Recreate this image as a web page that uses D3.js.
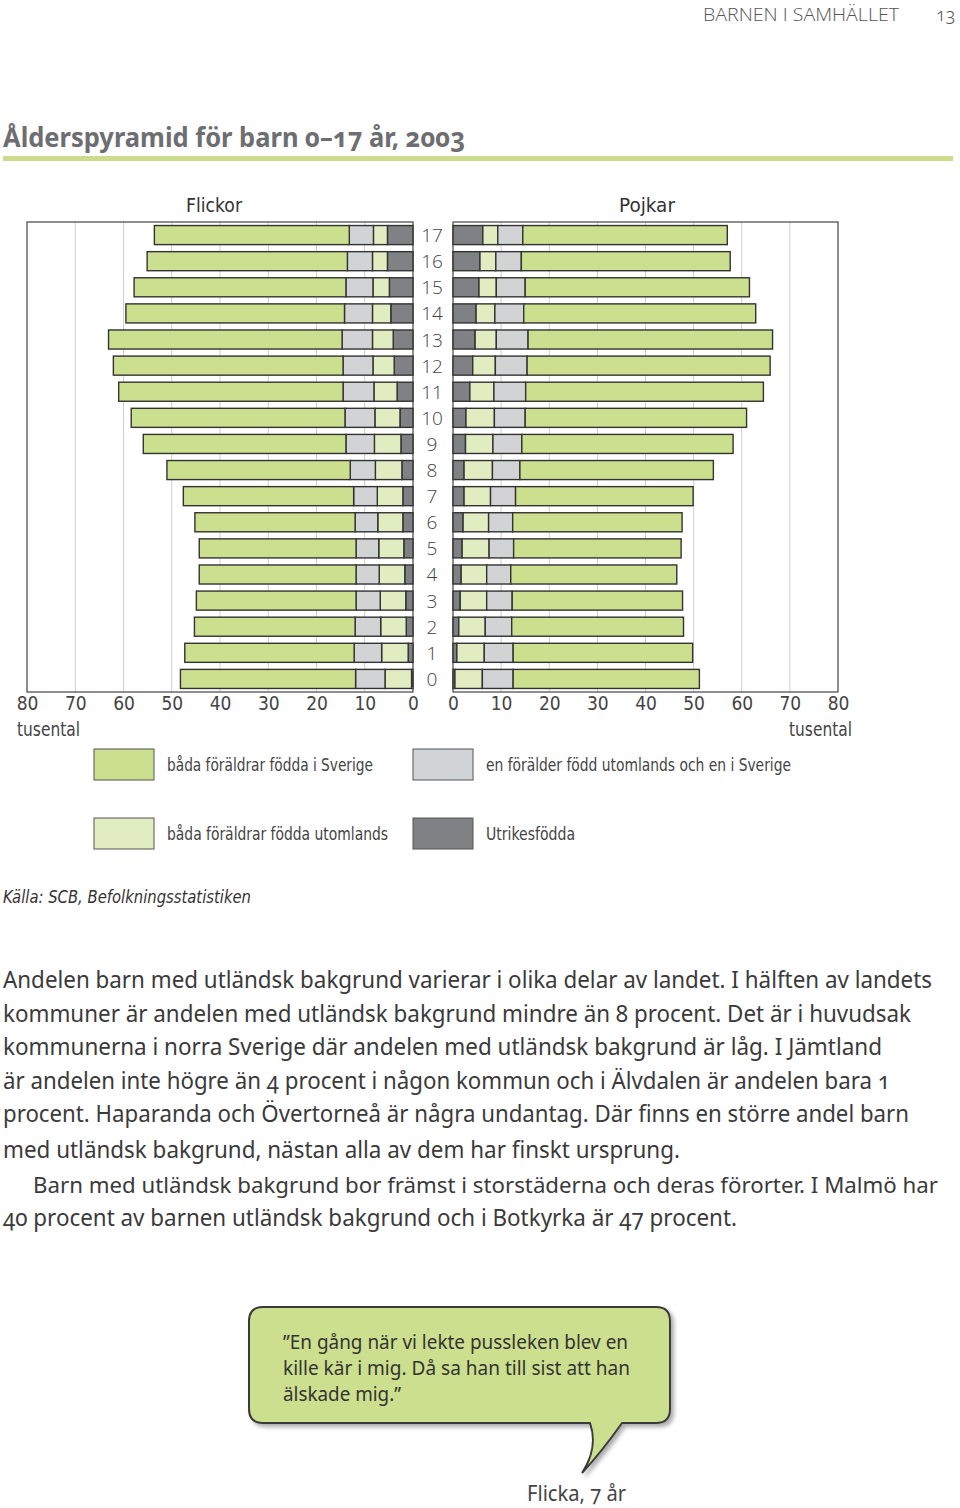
<!DOCTYPE html>
<html>
<head>
<meta charset="utf-8">
<script src="https://cdn.jsdelivr.net/npm/d3@7/dist/d3.min.js"></script>
<style>
  body { margin: 0; background: #fff; }
  svg { display: block; }
  .cond { font-family: "DejaVu Sans Condensed", "DejaVu Sans", sans-serif; font-stretch: condensed; }
  .body { font-family: "Noto Sans", "Open Sans", sans-serif; font-variant-numeric: oldstyle-nums; }
</style>
</head>
<body>
<svg id="page" width="960" height="1508"></svg>
<script>
// ages, bottom (0) to top (17)
var ages = [0, 1, 2, 3, 4, 5, 6, 7, 8, 9, 10, 11, 12, 13, 14, 15, 16, 17];
var keys = ['utrikes', 'utomlands', 'enForalder', 'sverige'];
var legendLabels = ['Utrikesfödda', 'båda föräldrar födda utomlands', 'en förälder född utomlands och en i Sverige', 'båda föräldrar födda i Sverige'];
var xTicks = [0, 10, 20, 30, 40, 50, 60, 70, 80];

// girls, thousands, age 0..17
var girlsUtrikes   = [0.3, 1.0, 1.4, 1.5, 1.7, 1.9, 2.1, 2.1, 2.3, 2.5, 2.7, 3.3, 3.9, 4.1, 4.6, 4.9, 5.3, 5.3];
var girlsUtomlands = [5.5, 5.5, 5.3, 5.3, 5.3, 5.2, 5.2, 5.3, 5.5, 5.5, 5.2, 4.8, 4.4, 4.3, 3.8, 3.4, 3.1, 2.9];
var girlsEnForalder= [6.1, 5.7, 5.3, 5.0, 4.8, 4.7, 4.7, 4.9, 5.2, 5.9, 6.2, 6.4, 6.2, 6.3, 5.8, 5.6, 5.2, 5.0];
var girlsSverige   = [36.3, 35.1, 33.3, 33.1, 32.5, 32.5, 33.2, 35.3, 38.0, 42.0, 44.3, 46.5, 47.6, 48.4, 45.3, 43.9, 41.5, 40.4];

// boys
var boysUtrikes    = [0.4, 0.8, 1.2, 1.5, 1.7, 1.9, 2.1, 2.3, 2.3, 2.6, 2.7, 3.5, 4.1, 4.6, 4.8, 5.4, 5.6, 6.2];
var boysUtomlands  = [5.7, 5.7, 5.5, 5.5, 5.3, 5.6, 5.3, 5.5, 5.9, 5.7, 5.9, 5.0, 4.7, 4.4, 3.9, 3.6, 3.3, 3.1];
var boysEnForalder = [6.4, 6.0, 5.5, 5.3, 5.0, 5.1, 5.0, 5.2, 5.7, 6.0, 6.4, 6.6, 6.6, 6.6, 6.0, 6.0, 5.3, 5.2];
var boysSverige    = [38.7, 37.3, 35.7, 35.4, 34.5, 34.8, 35.2, 36.9, 40.2, 43.9, 46.0, 49.4, 50.5, 50.8, 48.2, 46.6, 43.4, 42.5];

var colors = { utrikes: '#808184', utomlands: '#e1ecc1', enForalder: '#d1d3d4', sverige: '#cbdf8e' };

function rows(a, b, c, d) {
	return ages.map(function(age, i) {
		return { age: age, utrikes: a[i], utomlands: b[i], enForalder: c[i], sverige: d[i] };
	});
}

var svg = d3.select('#page');
svg.append('rect').attr('width', 960).attr('height', 1508).style('fill', '#fff');

// header
svg.append('text').attr('x', 703).attr('y', 21).attr('textLength', 196).attr('lengthAdjust', 'spacingAndGlyphs')
	.style('font-family', '"Open Sans", sans-serif').style('font-weight', 300).style('font-size', '19px').style('fill', '#555')
	.text('BARNEN I SAMHÄLLET');
svg.append('text').attr('x', 936).attr('y', 21).attr('class', 'body').style('font-size', '18px').style('fill', '#555').style('font-weight', 300).text('13');

// title
svg.append('text').attr('x', 3).attr('y', 147).attr('class', 'body').attr('textLength', 462).attr('lengthAdjust', 'spacingAndGlyphs')
	.style('font-size', '27px').style('font-weight', 700).style('fill', '#6d6e71')
	.text('Ålderspyramid för barn 0–17 år, 2003');
svg.append('rect').attr('x', 3).attr('y', 156).attr('width', 950).attr('height', 5).style('fill', '#cbdd8c');

// scales
var y = d3.scaleBand().domain(ages.slice().reverse()).range([222, 692]).paddingInner(0.27).paddingOuter(0.136);
var xLeft = d3.scaleLinear().domain([0, 80]).range([413, 27]);
var xRight = d3.scaleLinear().domain([0, 80]).range([453, 838]);

var stack = d3.stack().keys(keys);

function panel(x, data, label, labelX) {
	var g = svg.append('g');
	// grid
	g.selectAll('.grid').data(xTicks.filter(function(t) { return t > 0 && t < 80; })).enter().append('line')
		.attr('x1', function(d) { return x(d); }).attr('x2', function(d) { return x(d); })
		.attr('y1', 222).attr('y2', 692).style('stroke', '#cfcfcf').style('stroke-width', 1);
	// frame
	var x0 = Math.min(x(0), x(80)), x1 = Math.max(x(0), x(80));
	g.append('rect').attr('x', x0).attr('y', 222).attr('width', x1 - x0).attr('height', 470)
		.style('fill', 'none').style('stroke', '#444').style('stroke-width', 1.2);

	var series = stack(data);
	g.selectAll('.layer').data(series).enter().append('g')
		.style('fill', function(d) { return colors[d.key]; })
		.selectAll('rect').data(function(d) { return d; }).enter().append('rect')
		.attr('x', function(d) { return Math.min(x(d[0]), x(d[1])); })
		.attr('width', function(d) { return Math.abs(x(d[1]) - x(d[0])); })
		.attr('y', function(d) { return y(d.data.age); })
		.attr('height', y.bandwidth())
		.style('stroke', '#333').style('stroke-width', 1.4);

	var axis = d3.axisBottom(x).tickValues(xTicks).tickSize(0).tickPadding(5);
	var ax = g.append('g').attr('transform', 'translate(0,692)').call(axis);
	ax.select('.domain').remove();
	ax.selectAll('text').attr('class', 'cond').style('font-size', '19px').style('fill', '#444');

	svg.append('text').attr('x', labelX).attr('y', 212).attr('text-anchor', 'middle').attr('class', 'cond')
		.attr('textLength', 56).attr('lengthAdjust', 'spacingAndGlyphs')
		.style('font-size', '19px').style('fill', '#333').text(label);
}

panel(xLeft, rows(girlsUtrikes, girlsUtomlands, girlsEnForalder, girlsSverige), 'Flickor', 214);
panel(xRight, rows(boysUtrikes, boysUtomlands, boysEnForalder, boysSverige), 'Pojkar', 647);

// age labels
svg.selectAll('.age').data(ages).enter().append('text')
	.attr('x', 432).attr('y', function(d) { return y(d) + y.bandwidth() / 2 + 7; })
	.attr('text-anchor', 'middle').style('font-family', '"Open Sans", sans-serif').style('font-weight', 300)
	.style('font-size', '19px').style('fill', '#444').text(function(d) { return d; });

svg.append('text').attr('x', 17).attr('y', 736).attr('class', 'cond').attr('textLength', 63).attr('lengthAdjust', 'spacingAndGlyphs')
	.style('font-size', '19px').style('fill', '#444').text('tusental');
svg.append('text').attr('x', 789).attr('y', 736).attr('class', 'cond').attr('textLength', 63).attr('lengthAdjust', 'spacingAndGlyphs')
	.style('font-size', '19px').style('fill', '#444').text('tusental');

// legend
var legendPos = [
	{ key: 'sverige', x: 94, y: 749, w: 206 },
	{ key: 'enForalder', x: 413, y: 749, w: 305 },
	{ key: 'utomlands', x: 94, y: 818, w: 221 },
	{ key: 'utrikes', x: 413, y: 818, w: 89 }
];
var lg = svg.selectAll('.legend').data(legendPos).enter().append('g');
lg.append('rect').attr('x', function(d) { return d.x; }).attr('y', function(d) { return d.y; })
	.attr('width', 60).attr('height', 31).style('fill', function(d) { return colors[d.key]; })
	.style('stroke', '#555').style('stroke-width', 1);
lg.append('text').attr('x', function(d) { return d.x + 73; }).attr('y', function(d) { return d.y + 22; })
	.attr('textLength', function(d) { return d.w; }).attr('lengthAdjust', 'spacingAndGlyphs')
	.attr('class', 'cond').style('font-size', '18px').style('fill', '#444')
	.text(function(d) { return legendLabels[keys.indexOf(d.key)]; });

svg.append('text').attr('x', 3).attr('y', 903).attr('class', 'cond').attr('textLength', 248).attr('lengthAdjust', 'spacingAndGlyphs')
	.style('font-style', 'italic').style('font-size', '17px').style('fill', '#333').text('Källa: SCB, Befolkningsstatistiken');

// body text
var bodyLines = [
	{ t: 'Andelen barn med utländsk bakgrund varierar i olika delar av landet. I hälften av landets', x: 3, w: 929, fs: 23 },
	{ t: 'kommuner är andelen med utländsk bakgrund mindre än 8 procent. Det är i huvudsak', x: 3, w: 908, fs: 23 },
	{ t: 'kommunerna i norra Sverige där andelen med utländsk bakgrund är låg. I  Jämtland', x: 3, w: 879, fs: 23 },
	{ t: 'är andelen inte högre än 4 procent i någon kommun och i Älvdalen är andelen bara 1', x: 3, w: 887, fs: 23 },
	{ t: 'procent. Haparanda och Övertorneå är några undantag. Där finns en större andel barn', x: 3, w: 906, fs: 23 },
	{ t: 'med utländsk bakgrund, nästan alla av dem har finskt ursprung.', x: 3, w: 677, fs: 23 },
	{ t: 'Barn med utländsk bakgrund bor främst i storstäderna och deras förorter. I Malmö har', x: 33, w: 905, fs: 22 },
	{ t: '40 procent av barnen utländsk bakgrund och i Botkyrka är 47 procent.', x: 3, w: 734, fs: 23 }
];
var bodyY = [988, 1022, 1055, 1089, 1122, 1158, 1193, 1226];
svg.selectAll('.bl').data(bodyLines).enter().append('text')
	.attr('x', function(d) { return d.x; }).attr('y', function(d, i) { return bodyY[i]; })
	.attr('textLength', function(d) { return d.w; }).attr('lengthAdjust', 'spacingAndGlyphs')
	.attr('class', 'body').style('font-size', function(d) { return d.fs + 'px'; }).style('fill', '#3a3a3a')
	.text(function(d) { return d.t; });

// speech bubble
var defs = svg.append('defs');
var f = defs.append('filter').attr('id', 'sh').attr('x', '-10%').attr('y', '-10%').attr('width', '130%').attr('height', '140%');
f.append('feDropShadow').attr('dx', 3).attr('dy', 3).attr('stdDeviation', 2).attr('flood-color', '#888').attr('flood-opacity', 0.7);
var r = 14, L = 249, R = 670, T = 1307, B = 1423;
var p = d3.path();
p.moveTo(L + r, T); p.lineTo(R - r, T); p.quadraticCurveTo(R, T, R, T + r);
p.lineTo(R, B - r); p.quadraticCurveTo(R, B, R - r, B);
p.lineTo(622, B); p.bezierCurveTo(610, 1440, 596, 1458, 582, 1473);
p.bezierCurveTo(592, 1458, 596, 1440, 590, B);
p.lineTo(L + r, B); p.quadraticCurveTo(L, B, L, B - r);
p.lineTo(L, T + r); p.quadraticCurveTo(L, T, L + r, T); p.closePath();
svg.append('path').attr('d', p.toString()).style('fill', '#cbdf8e').style('stroke', '#3a3a3a')
	.style('stroke-width', 2).attr('filter', 'url(#sh)');

var quote = ['”En gång när vi lekte pussleken blev en', 'kille kär i mig. Då sa han till sist att han', 'älskade mig.”'];
var quoteW = [345, 347, 118];
svg.selectAll('.q').data(quote).enter().append('text')
	.attr('x', 283).attr('y', function(d, i) { return 1349 + i * 26; })
	.attr('textLength', function(d, i) { return quoteW[i]; }).attr('lengthAdjust', 'spacingAndGlyphs')
	.attr('class', 'body').style('font-size', '20px').style('fill', '#333').text(function(d) { return d; });

svg.append('text').attr('x', 527).attr('y', 1501).attr('textLength', 99).attr('lengthAdjust', 'spacingAndGlyphs')
	.attr('class', 'body').style('font-size', '22px').style('fill', '#444').text('Flicka, 7 år');
</script>
</body>
</html>
